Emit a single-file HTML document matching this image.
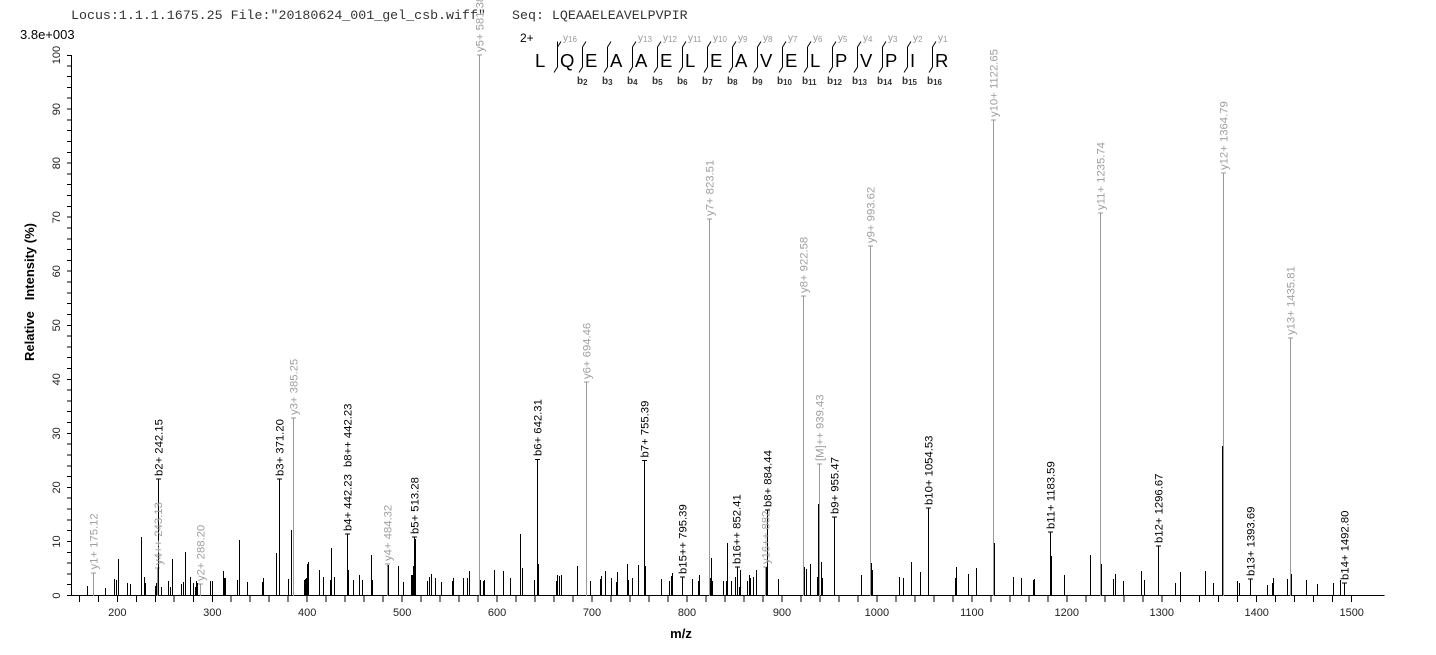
<!DOCTYPE html>
<html><head><meta charset="utf-8"><style>
html,body{margin:0;padding:0;background:#fff;}
svg{display:block;}
text{font-family:"Liberation Sans",Arial,sans-serif;}
.mono{font-family:"Liberation Mono","Courier New",monospace;}
.lg{font-size:11.3px;fill:#a0a0a0;}
.lb{font-size:11.3px;fill:#000;}
.tk{font-size:11px;fill:#222;}
</style></head><body>
<svg width="1436" height="655" viewBox="0 0 1436 655" xmlns="http://www.w3.org/2000/svg">
<rect width="1436" height="655" fill="#fff"/>
<!-- header -->
<text class="mono" x="71" y="19" font-size="13.3" fill="#333">Locus:1.1.1.1675.25 File:"20180624_001_gel_csb.wiff"</text>
<text class="mono" x="512" y="19" font-size="13.3" fill="#333">Seq: LQEAAELEAVELPVPIR</text>
<text x="20" y="39" font-size="13" fill="#000">3.8e+003</text>

<!-- sequence diagram -->
<text x="520" y="42" font-size="12" fill="#000">2+</text>
<g font-size="18.5" fill="#000">
<text x="535" y="67">L</text><text x="560" y="67">Q</text><text x="585" y="67">E</text><text x="610" y="67">A</text><text x="635" y="67">A</text><text x="660" y="67">E</text><text x="685" y="67">L</text><text x="710" y="67">E</text><text x="735" y="67">A</text><text x="760" y="67">V</text><text x="785" y="67">E</text><text x="810" y="67">L</text><text x="835" y="67">P</text><text x="860" y="67">V</text><text x="885" y="67">P</text><text x="910" y="67">I</text><text x="935" y="67">R</text>
</g>
<g stroke="#000" stroke-width="1" fill="none">
<path d="M557.5 41.5L557.5 47V67L554 72.5"/>
<path d="M582.5 47V67L579 72.5M582.5 47L586 41.5"/>
<path d="M607.5 47V67L604 72.5M607.5 47L611 41.5"/>
<path d="M632.5 47V67L629 72.5M632.5 47L636 41.5"/>
<path d="M657.5 47V67L654 72.5M657.5 47L661 41.5"/>
<path d="M682.5 47V67L679 72.5M682.5 47L686 41.5"/>
<path d="M707.5 47V67L704 72.5M707.5 47L711 41.5"/>
<path d="M732.5 47V67L729 72.5M732.5 47L736 41.5"/>
<path d="M757.5 47V67L754 72.5M757.5 47L761 41.5"/>
<path d="M782.5 47V67L779 72.5M782.5 47L786 41.5"/>
<path d="M807.5 47V67L804 72.5M807.5 47L811 41.5"/>
<path d="M832.5 47V67L829 72.5M832.5 47L836 41.5"/>
<path d="M857.5 47V67L854 72.5M857.5 47L861 41.5"/>
<path d="M882.5 47V67L879 72.5M882.5 47L886 41.5"/>
<path d="M907.5 47V67L904 72.5M907.5 47L911 41.5"/>
<path d="M932.5 47V67L929 72.5M932.5 47L936 41.5"/>
<path d="M557.5 47L561 41.5"/>
</g>
<g font-size="10" fill="#999">
<text x="563" y="41">y<tspan font-size="8" dy="1">16</tspan></text>
<text x="638" y="41">y<tspan font-size="8" dy="1">13</tspan></text>
<text x="663" y="41">y<tspan font-size="8" dy="1">12</tspan></text>
<text x="688" y="41">y<tspan font-size="8" dy="1">11</tspan></text>
<text x="713" y="41">y<tspan font-size="8" dy="1">10</tspan></text>
<text x="738" y="41">y<tspan font-size="8" dy="1">9</tspan></text>
<text x="763" y="41">y<tspan font-size="8" dy="1">8</tspan></text>
<text x="788" y="41">y<tspan font-size="8" dy="1">7</tspan></text>
<text x="813" y="41">y<tspan font-size="8" dy="1">6</tspan></text>
<text x="838" y="41">y<tspan font-size="8" dy="1">5</tspan></text>
<text x="863" y="41">y<tspan font-size="8" dy="1">4</tspan></text>
<text x="888" y="41">y<tspan font-size="8" dy="1">3</tspan></text>
<text x="913" y="41">y<tspan font-size="8" dy="1">2</tspan></text>
<text x="938" y="41">y<tspan font-size="8" dy="1">1</tspan></text>
</g>
<g font-size="10" font-weight="bold" fill="#333">
<text x="577" y="84">b<tspan font-size="8" dy="1">2</tspan></text>
<text x="602" y="84">b<tspan font-size="8" dy="1">3</tspan></text>
<text x="627" y="84">b<tspan font-size="8" dy="1">4</tspan></text>
<text x="652" y="84">b<tspan font-size="8" dy="1">5</tspan></text>
<text x="677" y="84">b<tspan font-size="8" dy="1">6</tspan></text>
<text x="702" y="84">b<tspan font-size="8" dy="1">7</tspan></text>
<text x="727" y="84">b<tspan font-size="8" dy="1">8</tspan></text>
<text x="752" y="84">b<tspan font-size="8" dy="1">9</tspan></text>
<text x="777" y="84">b<tspan font-size="8" dy="1">10</tspan></text>
<text x="802" y="84">b<tspan font-size="8" dy="1">11</tspan></text>
<text x="827" y="84">b<tspan font-size="8" dy="1">12</tspan></text>
<text x="852" y="84">b<tspan font-size="8" dy="1">13</tspan></text>
<text x="877" y="84">b<tspan font-size="8" dy="1">14</tspan></text>
<text x="902" y="84">b<tspan font-size="8" dy="1">15</tspan></text>
<text x="927" y="84">b<tspan font-size="8" dy="1">16</tspan></text>
</g>

<!-- axes -->
<g stroke="#000" stroke-width="1" shape-rendering="crispEdges" fill="none">
<path d="M71.5 55V596M71 595.5H1384.5"/>
<path d="M79.3 596v6M98.3 596v6M117.3 596v6M136.3 596v6M155.3 596v6M174.2 596v6M193.3 596v6M212.3 596v6M231.2 596v6M250.2 596v6M269.2 596v6M288.2 596v6M307.2 596v6M326.2 596v6M345.2 596v6M364.2 596v6M383.2 596v6M402.2 596v6M421.1 596v6M440.1 596v6M459.1 596v6M478.1 596v6M497.1 596v6M516.1 596v6M535.1 596v6M554.1 596v6M573.1 596v6M592 596v6M611 596v6M630 596v6M649 596v6M668 596v6M687 596v6M706 596v6M725 596v6M744 596v6M763 596v6M782 596v6M800.9 596v6M819.9 596v6M838.9 596v6M857.9 596v6M876.9 596v6M895.9 596v6M914.9 596v6M933.9 596v6M952.9 596v6M971.9 596v6M990.8 596v6M1009.8 596v6M1028.8 596v6M1047.8 596v6M1066.8 596v6M1085.8 596v6M1104.8 596v6M1123.8 596v6M1142.8 596v6M1161.8 596v6M1180.7 596v6M1199.7 596v6M1218.7 596v6M1237.7 596v6M1256.7 596v6M1275.7 596v6M1294.7 596v6M1313.7 596v6M1332.7 596v6M1351.7 596v6"/>
<path d="M67 595.5h4.5M67 584.7h4.5M67 573.9h4.5M67 563.1h4.5M67 552.3h4.5M67 541.5h4.5M67 530.6h4.5M67 519.8h4.5M67 509h4.5M67 498.2h4.5M67 487.4h4.5M67 476.6h4.5M67 465.8h4.5M67 455h4.5M67 444.2h4.5M67 433.4h4.5M67 422.5h4.5M67 411.7h4.5M67 400.9h4.5M67 390.1h4.5M67 379.3h4.5M67 368.5h4.5M67 357.7h4.5M67 346.9h4.5M67 336.1h4.5M67 325.3h4.5M67 314.4h4.5M67 303.6h4.5M67 292.8h4.5M67 282h4.5M67 271.2h4.5M67 260.4h4.5M67 249.6h4.5M67 238.8h4.5M67 228h4.5M67 217.2h4.5M67 206.3h4.5M67 195.5h4.5M67 184.7h4.5M67 173.9h4.5M67 163.1h4.5M67 152.3h4.5M67 141.5h4.5M67 130.7h4.5M67 119.9h4.5M67 109.1h4.5M67 98.2h4.5M67 87.4h4.5M67 76.6h4.5M67 65.8h4.5M67 55.5h4.5"/>
</g>
<g class="tk" text-anchor="middle">
<text x="117.3" y="616">200</text><text x="212.3" y="616">300</text><text x="307.2" y="616">400</text><text x="402.2" y="616">500</text><text x="497.1" y="616">600</text><text x="592" y="616">700</text><text x="687" y="616">800</text><text x="782" y="616">900</text><text x="876.9" y="616">1000</text><text x="971.9" y="616">1100</text><text x="1066.8" y="616">1200</text><text x="1161.8" y="616">1300</text><text x="1256.7" y="616">1400</text><text x="1351.7" y="616">1500</text>
</g>
<g class="tk" text-anchor="middle">
<text transform="rotate(-90 60 595.5)" x="60" y="595.5">0</text>
<text transform="rotate(-90 60 541.5)" x="60" y="541.5">10</text>
<text transform="rotate(-90 60 487.4)" x="60" y="487.4">20</text>
<text transform="rotate(-90 60 433.4)" x="60" y="433.4">30</text>
<text transform="rotate(-90 60 379.3)" x="60" y="379.3">40</text>
<text transform="rotate(-90 60 325.3)" x="60" y="325.3">50</text>
<text transform="rotate(-90 60 271.2)" x="60" y="271.2">60</text>
<text transform="rotate(-90 60 217.2)" x="60" y="217.2">70</text>
<text transform="rotate(-90 60 163.1)" x="60" y="163.1">80</text>
<text transform="rotate(-90 60 109.1)" x="60" y="109.1">90</text>
<text transform="rotate(-90 60 55)" x="60" y="55">100</text>
</g>
<text transform="rotate(-90 34 292)" x="34" y="292" text-anchor="middle" font-size="13" font-weight="bold" fill="#000" xml:space="preserve">Relative   Intensity (%)</text>
<text x="681" y="638" text-anchor="middle" font-size="13" font-weight="bold" fill="#000">m/z</text>

<!-- gray peaks -->
<path stroke="#999" stroke-width="1" fill="none" shape-rendering="crispEdges" d="M93.5 596V573M157.5 596V568M200.5 596V584M293.5 596V418M387.5 596V564M479.5 596V55M586.5 596V382M709.5 596V219M765.5 596V567M803.5 596V296M819.5 596V464M870.5 596V246M993.5 596V120M1100.5 596V213M1223.5 596V173M1290.5 596V338
M91 573h5M155 568h5M198 584h5M291 418h5M385 564h5M477 55h5M584 382h5M707 219h5M763 567h5M801 296h5M817 464h5M868 246h5M991 120h5M1098 213h5M1221 173h5M1288 338h5"/>
<!-- black peaks -->
<path stroke="#000" stroke-width="1" fill="none" shape-rendering="crispEdges" d="M87.5 596V586M105.5 596V588M114.5 596V579M116.5 596V580M118.5 596V559M127.5 596V583M130.5 596V584M141.5 596V537M144.5 596V577M145.5 596V583M155.5 596V586M156.5 596V583M158.5 596V479M161.5 596V587M168.5 596V581M170.5 596V587M172.5 596V559M181.5 596V584M183.5 596V582M185.5 596V552M190.5 596V577M193.5 596V583M195.5 596V587M196.5 596V581M197.5 596V583M210.5 596V581M212.5 596V581M223.5 596V571M224.5 596V578M225.5 596V578M237.5 596V580M239.5 596V540M247.5 596V582M262.5 596V582M263.5 596V578M276.5 596V553M279.5 596V479M288.5 596V579M291.5 596V530M304.5 596V580M305.5 596V579M306.5 596V578M307.5 596V564M308.5 596V562M319.5 596V570M323.5 596V577M330.5 596V580M331.5 596V548M334.5 596V577M347.5 596V534M348.5 596V570M353.5 596V580M359.5 596V575M362.5 596V580M371.5 596V555M372.5 596V580M388.5 596V565M398.5 596V566M403.5 596V582M411.5 596V575M412.5 596V575M413.5 596V566M414.5 596V537M415.5 596V539M427.5 596V581M429.5 596V577M431.5 596V574M435.5 596V578M441.5 596V582M452.5 596V581M453.5 596V578M463.5 596V578M467.5 596V578M469.5 596V571M480.5 596V580M483.5 596V581M484.5 596V580M494.5 596V570M503.5 596V571M510.5 596V578M520.5 596V534M522.5 596V568M534.5 596V580M537.5 596V459.5M538.5 596V564M556.5 596V581M557.5 596V575M559.5 596V576M561.5 596V575M577.5 596V566M590.5 596V581M600.5 596V579M601.5 596V576M605.5 596V571M611.5 596V578M616.5 596V582M617.5 596V572M627.5 596V564M628.5 596V580M632.5 596V578M638.5 596V565M644.5 596V460.5M645.5 596V566M661.5 596V579M669.5 596V581M671.5 596V576M672.5 596V573M682.5 596V577M692.5 596V579M698.5 596V581M699.5 596V575M710.5 596V578M711.5 596V558M712.5 596V581M723.5 596V581M726.5 596V581M727.5 596V543M731.5 596V581M735.5 596V577M737.5 596V567M739.5 596V587M740.5 596V570M747.5 596V581M749.5 596V575M750.5 596V578M753.5 596V577M756.5 596V570M766.5 596V567M767.5 596V510M778.5 596V579M804.5 596V567M806.5 596V569M810.5 596V564M817.5 596V577M818.5 596V504M821.5 596V562M822.5 596V578M834.5 596V517M861.5 596V575M871.5 596V563M872.5 596V570M899.5 596V577M903.5 596V578M911.5 596V562M920.5 596V572M928.5 596V508M955.5 596V578M956.5 596V567M968.5 596V574M976.5 596V568M994.5 596V543M1013.5 596V577M1021.5 596V578M1033.5 596V580M1034.5 596V579M1050.5 596V532M1051.5 596V556M1064.5 596V575M1090.5 596V555M1101.5 596V564M1113.5 596V579M1115.5 596V574M1123.5 596V581M1141.5 596V571M1144.5 596V580M1158.5 596V546M1175.5 596V583M1180.5 596V572M1205.5 596V571M1213.5 596V583M1222.5 596V446M1237.5 596V581M1239.5 596V583M1250.5 596V579M1267.5 596V585M1272.5 596V583M1273.5 596V578M1287.5 596V579M1291.5 596V574M1306.5 596V580M1317.5 596V584M1333.5 596V583M1340.5 596V580M1344.5 596V583
M156 479h5M277 479h5M345 534h5M412 537h5M535 459.5h5M642 460.5h5M680 577h5M735 567h5M765 510h5M832 517h5M926 508h5M1048 532h5M1156 546h5M1248 579h5M1342 583h5"/>

<!-- gray labels -->
<g class="lg">
<text transform="rotate(-90 97.5 569.5)" x="97.5" y="569.5">y1+ 175.12</text>
<text transform="rotate(-90 162 565)" x="162" y="565">y4++ 243.13</text>
<text transform="rotate(-90 204.5 581)" x="204.5" y="581">y2+ 288.20</text>
<text transform="rotate(-90 297.5 415)" x="297.5" y="415">y3+ 385.25</text>
<text transform="rotate(-90 391.5 561)" x="391.5" y="561">y4+ 484.32</text>
<text transform="rotate(-90 483.5 52)" x="483.5" y="52">y5+ 581.38</text>
<text transform="rotate(-90 590.5 379)" x="590.5" y="379">y6+ 694.46</text>
<text transform="rotate(-90 713.5 216)" x="713.5" y="216">y7+ 823.51</text>
<text transform="rotate(-90 769.5 564)" x="769.5" y="564">y16++ 882.</text>
<text transform="rotate(-90 807.5 293)" x="807.5" y="293">y8+ 922.58</text>
<text transform="rotate(-90 823.5 461)" x="823.5" y="461">[M]++ 939.43</text>
<text transform="rotate(-90 874.5 243)" x="874.5" y="243">y9+ 993.62</text>
<text transform="rotate(-90 997.5 117)" x="997.5" y="117">y10+ 1122.65</text>
<text transform="rotate(-90 1104.5 210)" x="1104.5" y="210">y11+ 1235.74</text>
<text transform="rotate(-90 1227.5 170)" x="1227.5" y="170">y12+ 1364.79</text>
<text transform="rotate(-90 1294.5 335)" x="1294.5" y="335">y13+ 1435.81</text>
</g>
<!-- black labels -->
<g class="lb">
<text transform="rotate(-90 162.5 476)" x="162.5" y="476">b2+ 242.15</text>
<text transform="rotate(-90 283.5 476)" x="283.5" y="476">b3+ 371.20</text>
<text transform="rotate(-90 351.5 531)" x="351.5" y="531">b4+ 442.23</text>
<text transform="rotate(-90 351.5 467)" x="351.5" y="467">b8++ 442.23</text>
<text transform="rotate(-90 418.5 534)" x="418.5" y="534">b5+ 513.28</text>
<text transform="rotate(-90 541.5 456)" x="541.5" y="456">b6+ 642.31</text>
<text transform="rotate(-90 648.5 457.5)" x="648.5" y="457.5">b7+ 755.39</text>
<text transform="rotate(-90 686.5 574)" x="686.5" y="574">b15++ 795.39</text>
<text transform="rotate(-90 740.5 564)" x="740.5" y="564">b16++ 852.41</text>
<text transform="rotate(-90 771.5 507)" x="771.5" y="507">b8+ 884.44</text>
<text transform="rotate(-90 838.5 514)" x="838.5" y="514">b9+ 955.47</text>
<text transform="rotate(-90 932.5 505)" x="932.5" y="505">b10+ 1054.53</text>
<text transform="rotate(-90 1054.5 529)" x="1054.5" y="529">b11+ 1183.59</text>
<text transform="rotate(-90 1162.5 543)" x="1162.5" y="543">b12+ 1296.67</text>
<text transform="rotate(-90 1254.5 576)" x="1254.5" y="576">b13+ 1393.69</text>
<text transform="rotate(-90 1348.5 580)" x="1348.5" y="580">b14+ 1492.80</text>
</g>
</svg>
</body></html>
